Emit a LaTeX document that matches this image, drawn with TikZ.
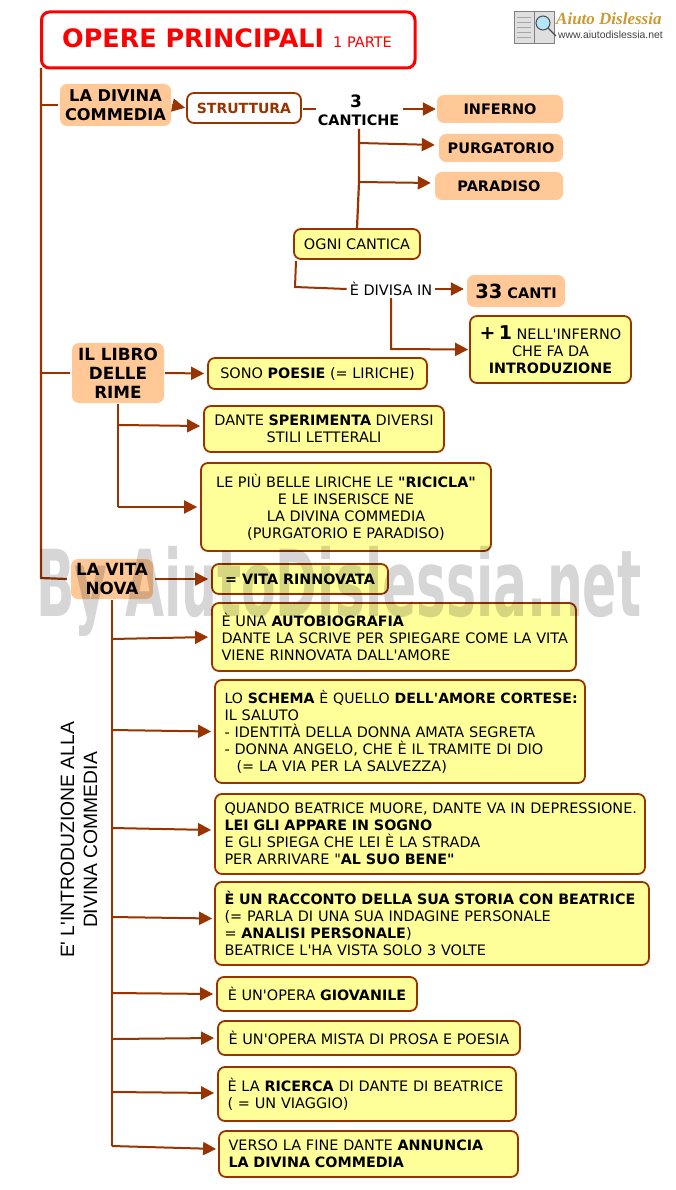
\documentclass[tikz,border=0pt]{standalone}
\usepackage{fontspec}
\usepackage{graphicx}
\setmainfont{DejaVu Sans}
\newfontfamily\vf{DejaVu Sans}
\newfontfamily\arialf{Liberation Sans}
\newfontfamily\logof{Liberation Serif}
\usetikzlibrary{arrows.meta,calc}
\definecolor{brn}{HTML}{993300}
\definecolor{yel}{HTML}{FFFF99}
\definecolor{ora}{HTML}{FFC896}
\definecolor{wm}{HTML}{D6D6D6}
\definecolor{ttl}{HTML}{FF0000}
\newcommand{\bx}[1]{{\fontsize{14.3}{17}\selectfont\bfseries #1}}
\tikzset{
  x=1pt,y=-1pt,
  basebox/.style={rounded corners=7pt,inner sep=0pt,align=center,font=\vf\fontsize{14.45}{17}\selectfont},
  yb/.style={basebox,draw=brn,line width=1.8pt,fill=yel},
  ybl/.style={yb,align=left,inner xsep=9.5pt,text width=#1pt-19pt},
  ob/.style={basebox,fill=ora,font=\vf\fontsize{16.8}{19}\selectfont\bfseries},
  obs/.style={basebox,fill=ora,font=\vf\fontsize{14.5}{17}\selectfont\bfseries},
  link/.style={draw=brn,line width=2.2pt},
  thin link/.style={draw=brn,line width=2pt},
  arr/.style={thin link,-{Triangle[length=13pt,width=13pt]},shorten >=1pt},
  sz/.style n args={2}{minimum width=#1,minimum height=#2},
}
\begin{document}
\begin{tikzpicture}
\useasboundingbox (0,0) rectangle (675,1190);
\fill[white] (0,0) rectangle (675,1190);
% logo
\fill[gray!25] (514,12) rectangle (554,44);
\draw[gray,line width=1pt] (514,12) rectangle (554,44);
\draw[gray] (534,12) -- (534,44);
\foreach \yy in {17,22,27,32,37}{\draw[gray!70,line width=.5pt] (517,\yy) -- (531,\yy);}
\fill[cyan!30] (543,23) circle (7);
\draw[gray!60!black,line width=1pt] (543,23) circle (7);
\draw[gray!60!black,line width=1.2pt] (548,28) -- (556,36);
\node[anchor=west,inner sep=0pt,text=brown!80!yellow,font=\logof\fontsize{17}{18}\selectfont\bfseries\itshape] (logoname) at (556,19) {Aiuto Dislessia};
\node[anchor=west,inner sep=0pt,text=black!75,font=\arialf\fontsize{10.4}{11}\selectfont] (logourl) at (558,35) {www.aiutodislessia.net};
% nodes
\node[rounded corners=8pt,draw=ttl,line width=3pt,fill=white,sz={373.5pt}{56pt},anchor=north west] (title) at (40,10.5) {};
\node[anchor=base west,inner sep=0pt,text=ttl,font=\vf\fontsize{25.4}{27}\selectfont\bfseries] (titletxt) at (62,47.5) {OPERE PRINCIPALI};
\node[anchor=base west,inner sep=0pt,text=ttl,font=\vf\fontsize{14.5}{16}\selectfont] (titlesub) at (333,47.5) {1 PARTE};
\node[ob,sz={111pt}{42pt},font=\vf\fontsize{16.2}{19}\selectfont\bfseries] (divina) at (115.5,105) {LA DIVINA\\COMMEDIA};
\node[basebox,draw=brn,line width=1.8pt,fill=white,text=brn,sz={114pt}{30pt},font=\vf\fontsize{14}{17}\selectfont\bfseries] (struttura) at (244,108) {STRUTTURA};
\node[inner sep=0pt,align=center,font=\vf\fontsize{17}{18}\selectfont\bfseries] (three) at (356,101) {3};
\node[inner sep=0pt,align=center,font=\vf\fontsize{14.4}{17}\selectfont\bfseries] (cantiche) at (358.5,120) {CANTICHE};
\node[obs,sz={126pt}{28pt}] (inferno) at (500,109) {INFERNO};
\node[obs,sz={124pt}{28pt}] (purg) at (501,148) {PURGATORIO};
\node[obs,sz={128pt}{28pt}] (para) at (499,186) {PARADISO};
\node[yb,sz={126pt}{30pt}] (ogni) at (357,244) {OGNI CANTICA};
\node[inner sep=0pt,font=\vf\fontsize{14.45}{17}\selectfont] (divisa) at (391,289) {È DIVISA IN};
\node[obs,sz={98pt}{32pt}] (canti) at (516,291) {{\fontsize{19.5}{20}\selectfont 33} CANTI};
\node[yb,sz={161pt}{67pt}] (uno) at (550.5,349.5) {{\fontsize{19}{18}\selectfont\bfseries +\,1} NELL'INFERNO\\CHE FA DA\\\bx{INTRODUZIONE}};
\node[ob,sz={92pt}{60pt}] (rime) at (118,373) {IL LIBRO\\DELLE\\RIME};
\node[yb,sz={219pt}{31pt}] (poesie) at (317.5,373.5) {SONO \bx{POESIE} (= LIRICHE)};
\node[yb,sz={240pt}{46pt}] (speri) at (324,429) {DANTE \bx{SPERIMENTA} DIVERSI\\STILI LETTERALI};
\node[yb,sz={290pt}{88pt}] (ricicla) at (346,507) {LE PIÙ BELLE LIRICHE LE \bx{"RICICLA"}\\E LE INSERISCE NE\\LA DIVINA COMMEDIA\\(PURGATORIO E PARADISO)};
\node[ob,sz={82pt}{40pt}] (nova) at (112,579) {LA VITA\\NOVA};
\node[yb,sz={176pt}{30pt}] (rinn) at (300,579) {\bx{= VITA RINNOVATA}};
\node[ybl=364,sz={364pt}{68pt}] (auto) at (394,637) {È UNA \bx{AUTOBIOGRAFIA}\\\mbox{DANTE LA SCRIVE PER SPIEGARE COME LA VITA}\\VIENE RINNOVATA DALL'AMORE};
\node[ybl=370,sz={370pt}{103pt}] (schema) at (400,731.5) {\mbox{\fontsize{14.1}{17}\selectfont LO {\bfseries SCHEMA} È QUELLO {\bfseries DELL'AMORE CORTESE:}}\\IL SALUTO\\- IDENTITÀ DELLA DONNA AMATA SEGRETA\\- DONNA ANGELO, CHE È IL TRAMITE DI DIO\\\hspace*{12pt}(= LA VIA PER LA SALVEZZA)};
\node[ybl=430,sz={430pt}{80pt}] (quando) at (430,834) {\mbox{QUANDO BEATRICE MUORE, DANTE VA IN DEPRESSIONE.}\\\bx{LEI GLI APPARE IN SOGNO}\\E GLI SPIEGA CHE LEI È LA STRADA\\PER ARRIVARE "\bx{AL SUO BENE"}};
\node[ybl=434,sz={434pt}{83pt}] (racconto) at (432,923.5) {\mbox{\bx{È UN RACCONTO DELLA SUA STORIA CON BEATRICE}}\\(= PARLA DI UNA SUA INDAGINE PERSONALE\\= \bx{ANALISI PERSONALE})\\BEATRICE L'HA VISTA SOLO 3 VOLTE};
\node[yb,sz={200pt}{34pt}] (giov) at (317,994) {È UN'OPERA \bx{GIOVANILE}};
\node[yb,sz={302pt}{34pt}] (mista) at (369,1038) {È UN'OPERA MISTA DI PROSA E POESIA};
\node[ybl=298,sz={298pt}{54pt}] (ricerca) at (367,1094) {È LA \bx{RICERCA} DI DANTE DI BEATRICE\\( = UN VIAGGIO)};
\node[ybl=299,sz={299pt}{46pt}] (verso) at (368.5,1154) {VERSO LA FINE DANTE \bx{ANNUNCIA}\\\bx{LA DIVINA COMMEDIA}};
\node[rotate=90,inner sep=0pt,align=center,font=\arialf\fontsize{19.3}{23}\selectfont] (intro) at (79,840) {E' L'INTRODUZIONE ALLA\\DIVINA COMMEDIA};
% junctions
\coordinate (t0) at (41,68);
\coordinate (t1) at (41,105);
\coordinate (t2) at (41,373);
\coordinate (t3) at (41,578);
\coordinate (s1) at (303,109);
\coordinate (s2) at (316,109);
\coordinate (c0) at (403,109);
\coordinate (c1) at (359,129);
\coordinate (c2) at (359,143);
\coordinate (c3) at (359,182);
\coordinate (o1) at (296,261);
\coordinate (o2) at (295,287);
\coordinate (d1) at (391,298);
\coordinate (d2) at (391,349);
\coordinate (r1) at (118,404);
\coordinate (r2) at (118,425);
\coordinate (r3) at (118,507);
\coordinate (n0) at (112,600);
\coordinate (n1) at (112,639);
\coordinate (n2) at (112,730);
\coordinate (n3) at (112,828);
\coordinate (n4) at (112,917);
\coordinate (n5) at (112,993);
\coordinate (n6) at (112,1039);
\coordinate (n7) at (112,1092);
\coordinate (n8) at (112,1146);
% connectors
\draw[link] (t0) -- (t3) -- ([xshift=-4pt]nova.west);
\draw[thin link] (t1) -- ([xshift=-2pt]divina.west);
\draw[thin link] (t2) -- ([xshift=-2pt]rime.west);
\draw[arr] ([xshift=1pt]divina.east) -- (struttura.west);
\draw[thin link] (s1) -- (s2);
\draw[arr] (c0) -- (inferno.west);
\draw[link] (c1) -- (c2) -- (c3) -- (ogni.north);
\draw[arr] (c2) -- ([xshift=-3pt,yshift=3pt]purg.west);
\draw[arr] (c3) -- ([xshift=-3pt,yshift=3pt]para.west);
\draw[thin link] (o1) -- (o2) -- ([xshift=-3pt]divisa.west);
\draw[arr] ([xshift=3pt]divisa.east) -- ([xshift=-2pt,yshift=2pt]canti.west);
\draw[arr] (d1) -- (d2) -- (uno.west);
\draw[arr] ([xshift=1pt]rime.east) -- ([xshift=-2pt]poesie.west);
\draw[thin link] (r1) -- (r2) -- (r3);
\draw[arr] (r2) -- ([xshift=-2pt,yshift=3pt]speri.west);
\draw[arr] (r3) -- ([xshift=-2pt]ricicla.west);
\draw[arr] ([xshift=2pt]nova.east) -- ([xshift=-2pt]rinn.west);
\draw[link,line width=2.6pt] (n0) -- (n8);
\draw[arr] (n1) -- ([xshift=-2pt]auto.west);
\draw[arr] (n2) -- ([xshift=-2pt]schema.west);
\draw[arr] (n3) -- ([xshift=-2pt,yshift=4pt]quando.west);
\draw[arr] (n4) -- ([xshift=-1pt,yshift=5pt]racconto.west);
\draw[arr] (n5) -- ([xshift=-2pt]giov.west);
\draw[arr] (n6) -- ([xshift=-2pt]mista.west);
\draw[arr] (n7) -- ([xshift=-2pt,yshift=1pt]ricerca.west);
\draw[arr] (n8) -- ([xshift=-1pt,yshift=5pt]verso.west);
% watermark
\begin{scope}[blend mode=multiply]
\node[anchor=south west,inner sep=0pt,text=wm] (wmark) at (36,637) {\resizebox*{605pt}{90pt}{\vf\bfseries By AiutoDislessia.net}};
\end{scope}
\end{tikzpicture}
\end{document}
